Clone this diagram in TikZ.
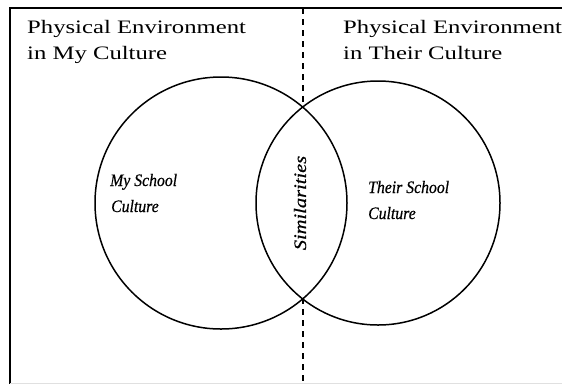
\documentclass[tikz,border=0pt]{standalone}
\usepackage{fontspec}
\setmainfont{Liberation Serif}
\newfontfamily\titlefont{Liberation Serif}[FakeStretch=1.3]
\newfontfamily\labelfont{Liberation Serif}[FakeStretch=0.9,FakeBold=0.6]
\begin{document}
\begin{tikzpicture}[x=1pt,y=-1pt,
  ring/.style={circle,draw=black,line width=1.5pt,inner sep=0pt},
  border/.style={line width=1.5pt,black},
  divider/.style={line width=1.3pt,dash pattern=on 6pt off 5pt},
  titletext/.style={anchor=base west,inner sep=0pt,font=\titlefont\fontsize{19}{22}\selectfont},
  ittext/.style={anchor=base west,inner sep=0pt,font=\labelfont\itshape\fontsize{17.5}{20}\selectfont}]
\useasboundingbox (0,0) rectangle (562,384);
% frame
\coordinate (tl) at (10,8);
\coordinate (tr) at (562,8);
\coordinate (bl) at (10,384);
\coordinate (bl2) at (10,383);
\coordinate (br2) at (562,383);
\draw[border] (tr) -- (tl) -- (bl);
\draw[line width=0.8pt,black!12] (bl2) -- (br2);
% circles
\node[ring,minimum size=252pt] (mine) at (221,203) {};
\node[ring,minimum size=244pt] (theirs) at (378,203) {};
% dashed divider (interrupted inside the overlap)
\coordinate (dtop) at (303,8);
\coordinate (xup) at (303,108);
\coordinate (xdown) at (303,298);
\coordinate (dbot) at (303,384);
\draw[divider] (dtop) -- (xup);
\draw[divider] (xdown) -- (dbot);
% titles
\node[titletext] (t1a) at (27,33) {Physical Environment};
\node[titletext] (t1b) at (27,59) {in My Culture};
\node[titletext] (t2a) at (343,33) {Physical Environment};
\node[titletext] (t2b) at (343,59) {in Their Culture};
% circle labels
\node[ittext] (my1) at (110,186) {My School};
\node[ittext] (my2) at (111,212) {Culture};
\node[ittext] (th1) at (368,193) {Their School};
\node[ittext] (th2) at (368,219) {Culture};
\node[inner sep=0pt,rotate=90,font=\labelfont\itshape\fontsize{17.5}{20}\selectfont] (sim) at (300,203) {\scalebox{1.3}[1]{Similarities}};
\end{tikzpicture}
\end{document}
